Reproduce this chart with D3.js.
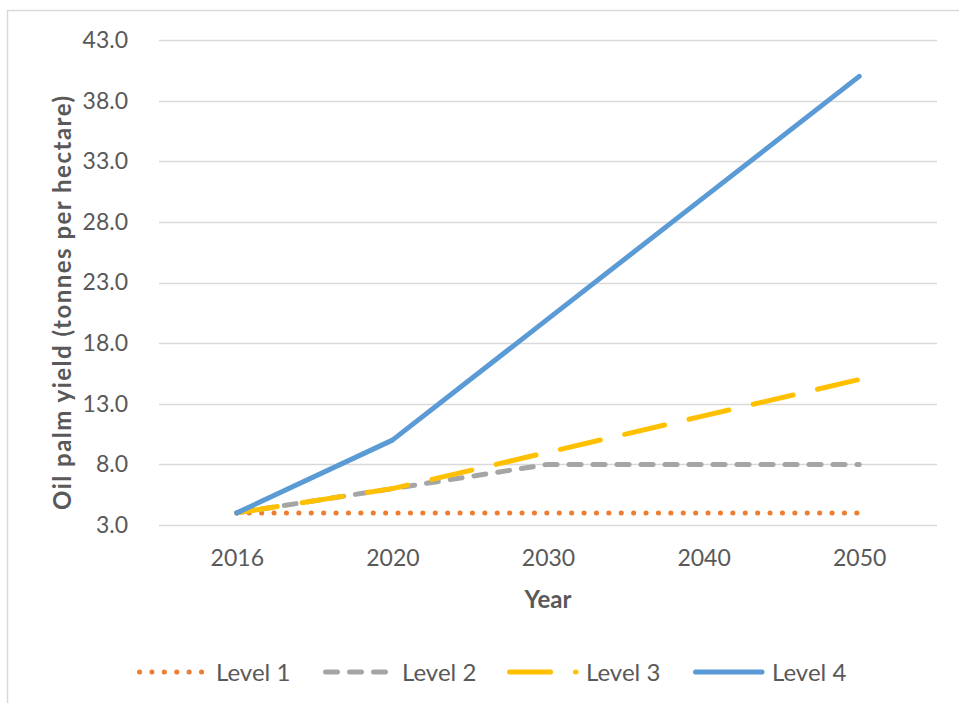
<!DOCTYPE html>
<html>
<head>
<meta charset="utf-8">
<script src="https://cdn.jsdelivr.net/npm/d3@7/dist/d3.min.js"></script>
<style>
  html, body { margin: 0; padding: 0; background: #fff; }
  svg { display: block; font-family: Lato, "Open Sans", sans-serif; }
</style>
</head>
<body>
<svg id="chart" width="959" height="703"></svg>
<script>
// Oil palm yield projections by intensification level
const years = ["2016", "2020", "2030", "2040", "2050"];
const level1 = [4, 4, 4, 4, 4];
const level2 = [4, 6, 8, 8, 8];
const level3 = [4, 6, 9, 12, 15];
const level4 = [4, 10, 20, 30, 40];
const yTicks = [3, 8, 13, 18, 23, 28, 33, 38, 43];

const series = [
  { name: "Level 1", values: level1, color: "#ED7D31", dash: "0.1 12.3", width: 5 },
  { name: "Level 2", values: level2, color: "#A5A5A5", dash: "12 12", width: 5 },
  { name: "Level 3", values: level3, color: "#FFC000", dash: "41 25", width: 5 },
  { name: "Level 4", values: level4, color: "#5B9BD5", dash: null, width: 5 }
];

const svg = d3.select("#chart");
const textColor = "#595959";
const gridColor = "#D9D9D9";

// chart frame
svg.append("rect")
  .attr("x", 7.5).attr("y", 10.5)
  .attr("width", 1000).attr("height", 1000)
  .attr("fill", "none").attr("stroke", gridColor).attr("stroke-width", 1.5);

const plot = { left: 159, right: 937, top: 40, bottom: 525 };

const x = d3.scalePoint().domain(years).range([plot.left, plot.right]).padding(0.5);
const y = d3.scaleLinear().domain([3, 43]).range([plot.bottom, plot.top]);

// horizontal gridlines
svg.append("g").selectAll("line").data(yTicks).join("line")
  .attr("x1", plot.left).attr("x2", plot.right)
  .attr("y1", d => Math.round(y(d)) + 0.5).attr("y2", d => Math.round(y(d)) + 0.5)
  .attr("stroke", gridColor).attr("stroke-width", 1.5);

// y axis labels
const yAxis = d3.axisLeft(y).tickValues(yTicks).tickFormat(d3.format(".1f")).tickSize(0).tickPadding(0);
const gy = svg.append("g").attr("transform", `translate(128,0)`).call(yAxis);
gy.select(".domain").remove();
gy.selectAll("text").attr("fill", textColor).style("font-size", "23px").style("font-family", "Lato, sans-serif");

// x axis labels
const xAxis = d3.axisBottom(x).tickSize(0).tickPadding(0);
const gx = svg.append("g").attr("transform", `translate(0,${plot.bottom + 25})`).call(xAxis);
gx.select(".domain").remove();
gx.selectAll("text").attr("fill", textColor).style("font-size", "23px").style("font-family", "Lato, sans-serif");

// axis titles
svg.append("text")
  .attr("x", x("2030")).attr("y", 608)
  .attr("text-anchor", "middle")
  .attr("fill", textColor).style("font-size", "24px").style("font-weight", "bold")
  .text("Year");

svg.append("text")
  .attr("transform", `translate(71,303) rotate(-90)`)
  .attr("text-anchor", "middle")
  .attr("textLength", 414).attr("lengthAdjust", "spacing")
  .attr("fill", textColor).style("font-size", "24px").style("font-weight", "bold")
  .text("Oil palm yield (tonnes per hectare)");

// series lines
const line = d3.line().x((d, i) => x(years[i])).y(d => y(d));
svg.append("g").selectAll("path").data(series).join("path")
  .attr("d", s => line(s.values))
  .attr("fill", "none")
  .attr("stroke", s => s.color)
  .attr("stroke-width", s => s.width)
  .attr("stroke-linecap", "round")
  .attr("stroke-linejoin", "round")
  .attr("stroke-dasharray", s => s.dash);

// legend
const legendX = [139.5, 325.5, 509.5, 695.5];
const legendY = 672;
const lg = svg.append("g").selectAll("g").data(series).join("g")
  .attr("transform", (s, i) => `translate(${legendX[i]},${legendY})`);
lg.append("line")
  .attr("x1", 0).attr("x2", 66.5).attr("y1", 0).attr("y2", 0)
  .attr("stroke", s => s.color)
  .attr("stroke-width", s => s.width)
  .attr("stroke-linecap", "round")
  .attr("stroke-dasharray", s => s.dash);
lg.append("text")
  .attr("x", 76.5).attr("y", 0).attr("dy", "0.36em")
  .attr("fill", textColor).style("font-size", "24px")
  .text(s => s.name);
</script>
</body>
</html>
